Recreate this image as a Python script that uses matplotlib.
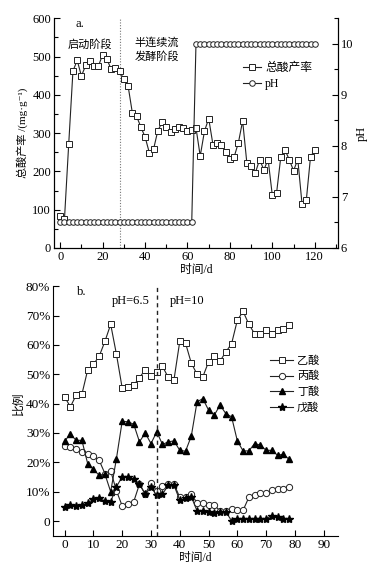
import matplotlib
matplotlib.use("Agg")
import matplotlib.pyplot as plt
import numpy as np

plt.rcParams['font.family'] = ['Liberation Serif', 'Noto Sans CJK SC', 'DejaVu Sans']
plt.rcParams['axes.unicode_minus'] = False

# ---- panel a data ----
days_a = list(range(0, 121, 2))
total_acid = [84, 75, 271, 462, 490, 449, 477, 488, 475, 475, 505, 493, 467, 469, 462,
              440, 423, 353, 344, 316, 290, 249, 258, 306, 328, 316, 303, 312, 315, 313,
              305, 308, 314, 240, 305, 338, 270, 275, 270, 251, 232, 238, 275, 332, 221,
              214, 196, 231, 204, 231, 137, 144, 238, 256, 230, 202, 231, 115, 124, 238, 256]
ph_values = [6.5] * 32 + [10.0] * 29

# ---- panel b data ----
days_b = list(range(0, 79, 2))
acetic = [42.3, 38.9, 42.9, 43.2, 51.4, 53.4, 56.1, 61.2, 67.0, 56.8, 45.3, 45.7, 46.3, 48.8,
          51.6, 49.3, 50.6, 52.7, 48.9, 48.2, 61.2, 60.6, 53.8, 50.0, 49.1, 54.2, 56.1, 54.5,
          57.6, 60.4, 68.4, 71.4, 67.0, 63.8, 63.6, 65.2, 63.6, 65.2, 65.5, 66.9]
propionic = [25.6, 25.3, 24.4, 23.6, 22.8, 22.1, 20.7, 16.2, 17.1, 10.3, 5.2, 5.8, 6.6, 12.6,
             9.2, 13.0, 10.3, 11.9, 12.6, 12.6, 8.1, 8.3, 9.2, 6.2, 6.0, 5.4, 5.4, 3.5, 3.4,
             4.0, 3.7, 3.7, 8.1, 8.8, 9.6, 9.6, 10.5, 10.8, 10.9, 11.7]
butyric = [27.3, 29.6, 27.5, 27.5, 19.6, 17.6, 15.6, 16.0, 10.0, 21.3, 34.0, 33.8, 33.0, 27.0,
           30.0, 26.4, 30.4, 26.1, 27.0, 27.3, 24.1, 23.8, 28.9, 40.6, 41.7, 37.8, 36.1, 39.5,
           36.6, 35.5, 27.3, 23.9, 23.9, 26.4, 25.9, 24.1, 24.1, 22.4, 22.8, 21.0]
valeric = [4.7, 5.4, 5.1, 5.4, 6.2, 7.4, 7.7, 6.9, 6.6, 11.7, 15.1, 14.9, 14.2, 12.6, 9.2,
           11.5, 8.8, 9.2, 12.2, 12.2, 7.1, 7.7, 8.3, 3.5, 3.4, 3.1, 2.6, 3.2, 3.2, 0.1, 0.6,
           0.8, 0.8, 0.8, 0.8, 0.8, 1.8, 1.5, 0.8, 0.8]

LC = '#222222'
TFS = 9      # tick labels
CFS = 8      # chinese annotations

fig = plt.figure(figsize=(3.74, 5.70), dpi=100)

# ---------------- panel a ----------------
ax = fig.add_axes([0.144, 0.565, 0.760, 0.403])
ax.plot(days_a, total_acid, color=LC, lw=0.8, marker='s', ms=4, mfc='white', mec=LC, mew=0.7,
        label='总酸产率', zorder=3)
ax.set_xlim(-3, 131)
ax.set_ylim(0, 600)
ax.set_xticks(range(0, 121, 20))
ax.set_xticks(range(10, 131, 20), minor=True)
ax.set_yticks(range(0, 601, 100))
ax.set_yticks(range(50, 600, 100), minor=True)
ax.axvline(28, color='#777777', lw=0.8, ls=(0, (1, 1.5)))
ax.spines['top'].set_visible(False)
ax.tick_params(direction='in', labelsize=TFS, length=4, width=0.8, pad=2)
ax.tick_params(which='minor', direction='in', length=3, width=0.8)
ax.set_ylabel('总酸产率 /(mg·g⁻¹)', fontsize=CFS, labelpad=3)
ax.set_xlabel('时间/d', fontsize=8.5, labelpad=1)
ax.text(0.075, 0.974, 'a.', transform=ax.transAxes, fontsize=TFS, va='center')
ax.text(0.049, 0.887, '启动阶段', transform=ax.transAxes, fontsize=CFS, va='center')
ax.text(0.285, 0.865, '半连续流\n发酵阶段', transform=ax.transAxes, fontsize=CFS,
        va='center', linespacing=1.35)

ax2 = ax.twinx()
ax2.plot(days_a, ph_values, color=LC, lw=0.8, marker='o', ms=4, mfc='white', mec=LC, mew=0.7,
         label='pH', zorder=3)
ax2.set_ylim(6, 10.5)
ax2.set_yticks([6, 7, 8, 9, 10])
ax2.set_yticks([6.5, 7.5, 8.5, 9.5, 10.5], minor=True)
ax2.spines['top'].set_visible(False)
ax2.tick_params(direction='in', labelsize=TFS, length=4, width=0.8, pad=2)
ax2.tick_params(which='minor', direction='in', length=3, width=0.8)
ax2.set_ylabel('pH', fontsize=TFS, labelpad=2)

h1, l1 = ax.get_legend_handles_labels()
h2, l2 = ax2.get_legend_handles_labels()
ax2.legend(h1 + h2, l1 + l2, loc='upper right', bbox_to_anchor=(0.925, 0.83), frameon=False,
           fontsize=8.5, handlelength=1.5, handletextpad=0.35, borderaxespad=0, labelspacing=0.35)

# ---------------- panel b ----------------
bx = fig.add_axes([0.142, 0.060, 0.762, 0.438])
bx.plot(days_b, acetic, color=LC, lw=0.8, marker='s', ms=4, mfc='white', mec=LC, mew=0.7, label='乙酸')
bx.plot(days_b, propionic, color=LC, lw=0.8, marker='o', ms=4.5, mfc='white', mec=LC, mew=0.7, label='丙酸')
bx.plot(days_b, butyric, color=LC, lw=0.8, marker='^', ms=5, mfc='black', mec='black', label='丁酸')
bx.plot(days_b, valeric, color=LC, lw=0.8, marker='*', ms=6, mfc='black', mec='black', label='戊酸')
bx.set_xlim(-4, 95)
bx.set_ylim(-5, 80)
bx.set_xticks(range(0, 91, 10))
bx.set_yticks(range(0, 81, 10))
bx.set_yticklabels(['0'] + ['%d%%' % v for v in range(10, 81, 10)])
bx.axvline(32, color=LC, lw=1.0, ls=(0, (3, 2.5)))
bx.spines['top'].set_visible(False)
bx.spines['right'].set_visible(False)
bx.tick_params(direction='in', labelsize=9.5, length=4, width=0.8, pad=2)
bx.set_ylabel('比例', fontsize=8.5, labelpad=3)
bx.yaxis.set_label_coords(-0.10, 0.53)
bx.set_xlabel('时间/d', fontsize=8.5, labelpad=1)
bx.text(0.084, 0.976, 'b.', transform=bx.transAxes, fontsize=TFS, va='center')
bx.text(0.207, 0.94, 'pH=6.5', transform=bx.transAxes, fontsize=TFS, va='center')
bx.text(0.41, 0.94, 'pH=10', transform=bx.transAxes, fontsize=TFS, va='center')
bx.legend(loc='upper right', bbox_to_anchor=(0.95, 0.74), frameon=False, fontsize=CFS,
          handlelength=2.0, handletextpad=0.4, borderaxespad=0, labelspacing=0.45)

fig.savefig('out.png', dpi=100)
